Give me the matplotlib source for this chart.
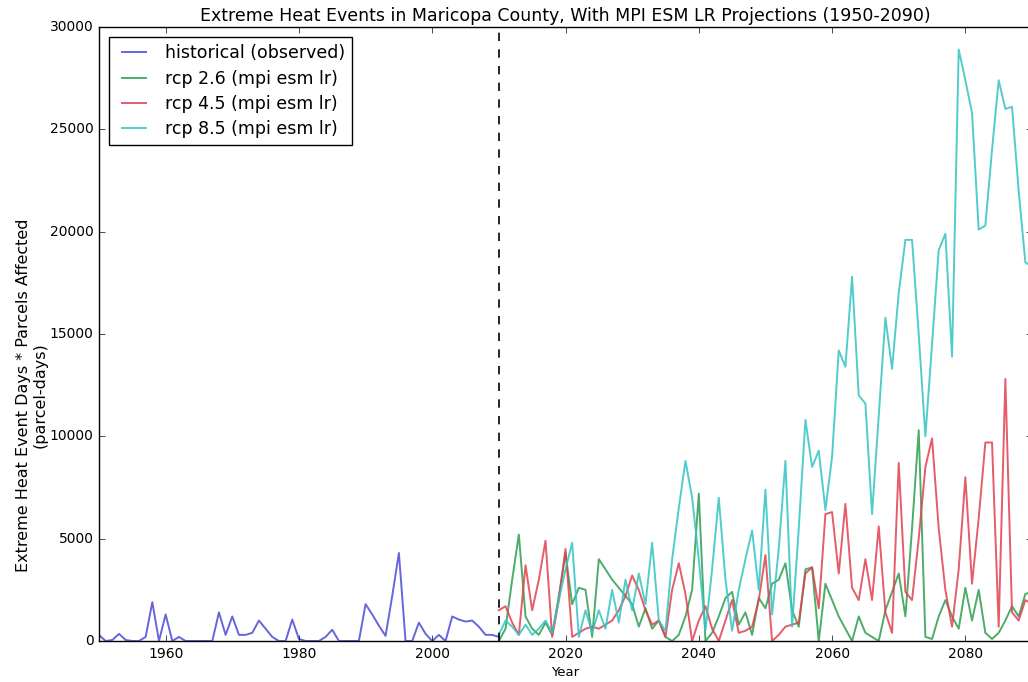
import matplotlib
matplotlib.use("Agg")
import matplotlib.pyplot as plt
import numpy as np
#------------------------

hist_years = np.arange(1950, 2011)
hist_vals = [300, 0, 50, 350, 50, 0, 0, 200, 1900, 0,
             1300, 0, 200, 0, 0, 0, 0, 0, 1400, 300,
             1200, 300, 300, 400, 1000, 600, 200, 0, 0, 1050,
             100, 0, 0, 0, 200, 550, 0, 0, 0, 0,
             1800, 1300, 750, 250, 2200, 4300, 0, 0, 900, 350,
             0, 300, 0, 1200, 1050, 950, 1000, 700, 300, 300,
             200]

proj_years = np.arange(2010, 2091)
rcp26 = [0, 600, 3000, 5200, 1200, 600, 300, 900, 300, 2200,
         4300, 1800, 2600, 2500, 200, 4000, 3500, 3000, 2600, 2200,
         1800, 700, 1600, 600, 1000, 200, 0, 300, 1200, 2500,
         7200, 0, 400, 1200, 2100, 2400, 800, 1400, 300, 2100,
         1600, 2800, 3000, 3800, 1500, 700, 3500, 3600, 0, 2800,
         2000, 1200, 600, 0, 1200, 400, 200, 0, 1500, 2400,
         3300, 1200, 5500, 10300, 200, 100, 1200, 2000, 1200, 600,
         2600, 1000, 2500, 400, 100, 400, 1000, 1700, 1200, 2300,
         2400]
rcp45 = [1500, 1700, 900, 300, 3700, 1500, 3000, 4900, 200, 2000,
         4500, 200, 400, 600, 700, 600, 800, 1000, 1500, 2200,
         3200, 2500, 1500, 800, 1000, 200, 2500, 3800, 2300, 0,
         1000, 1700, 600, 0, 1000, 2000, 400, 500, 700, 2000,
         4200, 0, 300, 700, 800, 900, 3300, 3600, 1600, 6200,
         6300, 3300, 6700, 2600, 2000, 4000, 2000, 5600, 1400, 400,
         8700, 2400, 2000, 5000, 8500, 9900, 5500, 2500, 700, 3500,
         8000, 2800, 6000, 9700, 9700, 700, 12800, 1400, 1000, 2000,
         1800]
rcp85 = [300, 1000, 700, 300, 800, 300, 600, 1000, 400, 2000,
         3500, 4800, 200, 1500, 400, 1500, 600, 2500, 900, 3000,
         1500, 3300, 1800, 4800, 1000, 500, 4000, 6500, 8800, 7000,
         4000, 500, 3500, 7000, 3000, 500, 2500, 4000, 5400, 2500,
         7400, 1300, 4500, 8800, 700, 5500, 10800, 8500, 9300, 6400,
         9000, 14200, 13400, 17800, 12000, 11600, 6200, 11000, 15800, 13300,
         17000, 19600, 19600, 15000, 10000, 14500, 19100, 19900, 13900, 28900,
         27400, 25800, 20100, 20300, 24000, 27400, 26000, 26100, 22000, 18500,
         18300]

plt.style.use('classic')
plt.rcParams['figure.facecolor'] = 'white'
plt.rcParams['font.family'] = ['DejaVu Sans']

fig = plt.figure(figsize=(10.28, 6.82), dpi=100)
ax = fig.add_axes([0.0963, 0.0601, 0.9076, 0.9003])

lw = 1.4
ax.plot(hist_years, hist_vals, color='#4b4bd6', lw=lw, alpha=0.85, label='historical (observed)')
ax.plot(proj_years, rcp26, color='#2e9e4f', lw=lw, alpha=0.85, label='rcp 2.6 (mpi esm lr)')
ax.plot(proj_years, rcp45, color='#e0404f', lw=lw, alpha=0.85, label='rcp 4.5 (mpi esm lr)')
ax.plot(proj_years, rcp85, color='#33c4c4', lw=lw, alpha=0.85, label='rcp 8.5 (mpi esm lr)')
ax.axvline(2010, color='k', ls='--', lw=1.2)

ax.set_xlim(1950, 2090)
ax.set_ylim(0, 30000)
ax.set_xticks(np.arange(1960, 2081, 20))
ax.set_yticks(np.arange(0, 30001, 5000))
ax.tick_params(labelsize=10)

ax.set_title('Extreme Heat Events in Maricopa County, With MPI ESM LR Projections (1950-2090)',
             fontsize=12.5, pad=4)
ax.set_xlabel('Year', fontsize=9.5, labelpad=4)
ax.set_ylabel('Extreme Heat Event Days * Parcels Affected\n(parcel-days)', fontsize=11.5,
              linespacing=1.1)
ax.yaxis.set_label_coords(-0.055, 0.40)

ax.legend(loc='upper left', fontsize=12.5, labelspacing=0.42, handlelength=2,
          fancybox=False, borderaxespad=0.6)

fig.savefig('out.png', dpi=100)
